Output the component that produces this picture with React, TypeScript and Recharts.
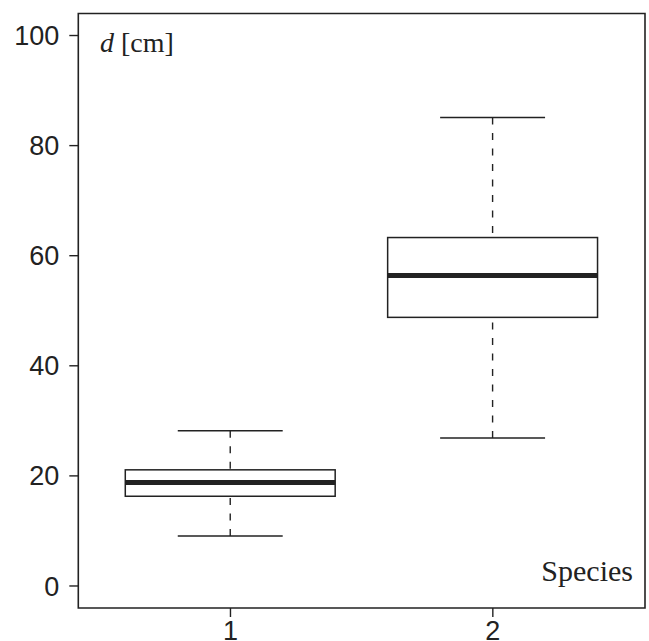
import React from "react";
import {
  ComposedChart,
  Bar,
  XAxis,
  YAxis,
  ReferenceArea,
  Customized,
} from "recharts";

// ---- data ----
const species = [1, 2];
const lowerWhisker = [9.1, 26.9];
const q1 = [16.3, 48.8];
const median = [18.8, 56.4];
const q3 = [21.1, 63.3];
const upperWhisker = [28.2, 85.1];
const yTicks = [0, 20, 40, 60, 80, 100];
const xTicks = [1, 2];
const yLabel = "[cm]";
const yLabelVar = "d";
const xLabel = "Species";

const data = species.map((s, i) => ({
  species: s,
  box: [q1[i], q3[i]],
  lo: lowerWhisker[i],
  q1: q1[i],
  med: median[i],
  q3: q3[i],
  hi: upperWhisker[i],
}));

const INK = "#222";
const W = 649;
const H = 641;
const X_DOMAIN: [number, number] = [0.42, 2.58];
const Y_DOMAIN: [number, number] = [-4, 104];
const MARGIN = { top: 13.5, right: 4, bottom: 0, left: 0.3 };
const Y_AXIS_W = 78;
const X_AXIS_H = 33;
const plotW = W - MARGIN.left - MARGIN.right - Y_AXIS_W;
const BAR = (0.8 * plotW) / (X_DOMAIN[1] - X_DOMAIN[0]);

const BoxShape = (props: any) => {
  const { x, y, width, height, payload } = props;
  const top = Math.min(y, y + height);
  const h = Math.abs(height);
  const k = h / (payload.q3 - payload.q1);
  const py = (v: number) => top + (payload.q3 - v) * k;
  const cx = x + width / 2;
  const capL = cx - width / 4;
  const capR = cx + width / 4;
  return (
    <g>
      <line x1={cx} x2={cx} y1={py(payload.hi)} y2={py(payload.q3)} stroke={INK} strokeWidth={1.4} strokeDasharray="7 8.5" />
      <line x1={cx} x2={cx} y1={py(payload.lo)} y2={py(payload.q1)} stroke={INK} strokeWidth={1.4} strokeDasharray="7 8.5" />
      <line x1={capL} x2={capR} y1={py(payload.hi)} y2={py(payload.hi)} stroke={INK} strokeWidth={1.5} />
      <line x1={capL} x2={capR} y1={py(payload.lo)} y2={py(payload.lo)} stroke={INK} strokeWidth={1.5} />
      <rect x={x} y={top} width={width} height={h} fill="#fff" stroke={INK} strokeWidth={1.5} />
      <line x1={x} x2={x + width} y1={py(payload.med)} y2={py(payload.med)} stroke={INK} strokeWidth={5} />
    </g>
  );
};

const Labels = () => (
  <g>
    <text x={100} y={51.5} fontFamily="'Liberation Serif', serif" fontSize={28} fill={INK}>
      <tspan fontStyle="italic">{yLabelVar}</tspan>
      <tspan> {yLabel}</tspan>
    </text>
    <text x={633} y={580.7} textAnchor="end" fontFamily="'Liberation Serif', serif" fontSize={30} fill={INK}>
      {xLabel}
    </text>
  </g>
);

const tickStyle = { fontFamily: "'Liberation Sans', Arial, sans-serif", fontSize: 27, fill: INK };

export default function App() {
  return (
    <div style={{ position: "absolute", left: 0, top: 0, background: "#fff" }}>
      <ComposedChart width={W} height={H} data={data} margin={MARGIN}>
        <XAxis
          dataKey="species"
          type="number"
          domain={X_DOMAIN}
          ticks={xTicks}
          allowDataOverflow
          height={X_AXIS_H}
          tickSize={9}
          tickMargin={4}
          axisLine={false}
          tickLine={{ stroke: INK, strokeWidth: 1.4 }}
          tick={tickStyle}
        />
        <YAxis
          type="number"
          domain={Y_DOMAIN}
          ticks={yTicks}
          allowDataOverflow
          width={Y_AXIS_W}
          tickSize={9}
          tickMargin={10}
          axisLine={false}
          tickLine={{ stroke: INK, strokeWidth: 1.4 }}
          tick={tickStyle}
        />
        <ReferenceArea
          x1={X_DOMAIN[0]}
          x2={X_DOMAIN[1]}
          y1={Y_DOMAIN[0]}
          y2={Y_DOMAIN[1]}
          fill="none"
          fillOpacity={0}
          stroke={INK}
          strokeWidth={1.6}
        />
        <Bar dataKey="box" barSize={BAR} shape={<BoxShape />} isAnimationActive={false} />
        <Customized component={<Labels />} />
      </ComposedChart>
    </div>
  );
}
